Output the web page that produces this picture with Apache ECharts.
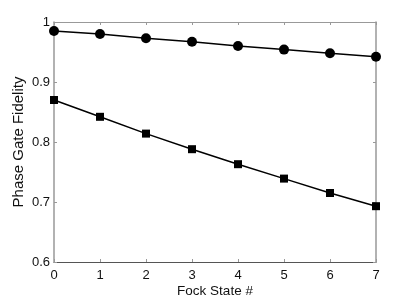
<!DOCTYPE html>
<html><head><meta charset="utf-8">
<script src="https://cdn.jsdelivr.net/npm/echarts@6/dist/echarts.min.js"></script>
<style>html,body{margin:0;padding:0;background:#fff}#c{width:415px;height:297px}</style>
</head><body><div id="c"></div>
<script>
const categories = [0, 1, 2, 3, 4, 5, 6, 7];
const circleSeries = [0.985, 0.980, 0.973, 0.967, 0.960, 0.954, 0.948, 0.942];
const squareSeries = [0.870, 0.842, 0.814, 0.788, 0.763, 0.739, 0.715, 0.693];
const yTicks = [0.6, 0.7, 0.8, 0.9, 1];

const font = 'Liberation Sans, Arial, sans-serif';
const chart = echarts.init(document.getElementById('c'), null, {renderer: 'canvas'});
const tickStyle = {show: true, inside: true, length: 3, lineStyle: {color: '#999', width: 1}};
chart.setOption({
  animation: false,
  grid: {left: 54, right: 39, top: 22, bottom: 35, containLabel: false, outerBoundsMode: 'none'},
  xAxis: [{
    type: 'value', min: 0, max: 7, interval: 1,
    name: 'Fock State #', nameLocation: 'middle', nameGap: 22, nameMoveOverlap: false,
    nameTextStyle: {fontFamily: font, fontSize: 13.5, color: '#111'},
    axisLine: {show: true, onZero: false, lineStyle: {color: '#555', width: 1}},
    axisTick: tickStyle,
    axisLabel: {fontFamily: font, fontSize: 13, color: '#111', margin: 7, formatter: v => String(v)},
    splitLine: {show: false}
  }, {
    type: 'value', min: 0, max: 7, interval: 1, position: 'top',
    axisLine: {show: true, onZero: false, lineStyle: {color: '#999', width: 1}},
    axisTick: tickStyle, axisLabel: {show: false}, splitLine: {show: false}
  }],
  yAxis: [{
    type: 'value', min: 0.6, max: 1, interval: 0.1,
    name: 'Phase Gate Fidelity', nameLocation: 'middle', nameGap: 28, nameMoveOverlap: false,
    nameTextStyle: {fontFamily: font, fontSize: 15, color: '#111'},
    axisLine: {show: true, onZero: false, lineStyle: {color: '#999', width: 1.5}},
    axisTick: tickStyle,
    axisLabel: {fontFamily: font, fontSize: 13, color: '#111', margin: 4,
      formatter: v => { const t = yTicks.find(k => Math.abs(k - v) < 1e-6); return t === undefined ? '' : String(t); }},
    splitLine: {show: false}
  }, {
    type: 'value', min: 0.6, max: 1, interval: 0.1, position: 'right',
    axisLine: {show: true, onZero: false, lineStyle: {color: '#999', width: 1.5}},
    axisTick: tickStyle, axisLabel: {show: false}, splitLine: {show: false}
  }],
  series: [{
    type: 'line', data: categories.map((c, i) => [c, circleSeries[i]]),
    symbol: 'circle', symbolSize: 10, showAllSymbol: true,
    lineStyle: {color: '#000', width: 1.5}, itemStyle: {color: '#000'}
  }, {
    type: 'line', data: categories.map((c, i) => [c, squareSeries[i]]),
    symbol: 'rect', symbolSize: 8, showAllSymbol: true,
    lineStyle: {color: '#000', width: 1.5}, itemStyle: {color: '#000'}
  }]
});
</script></body></html>
